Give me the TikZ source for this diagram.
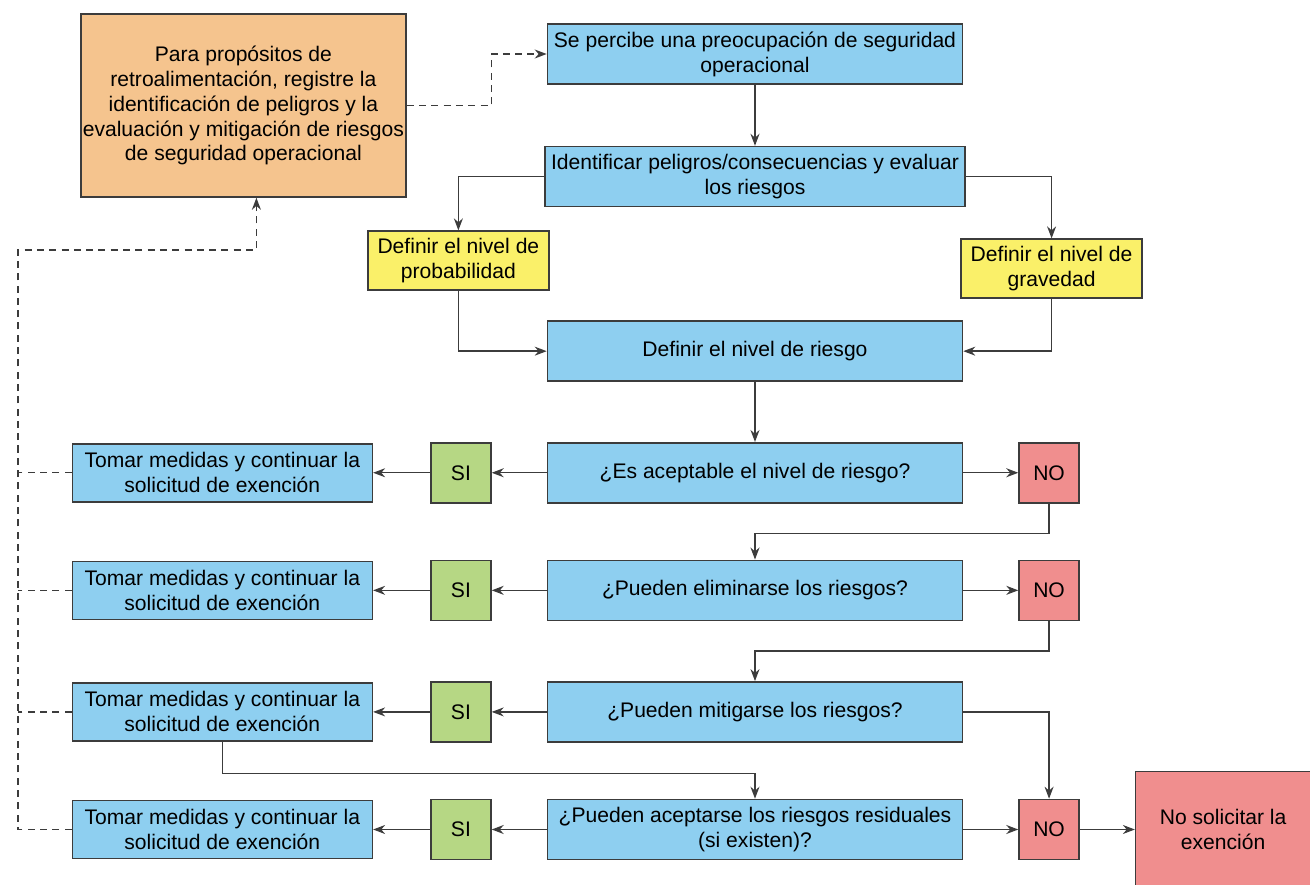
\documentclass[tikz,border=0pt]{standalone}
\usepackage{fontspec}
\setmainfont{Liberation Sans}
\usetikzlibrary{shapes.geometric, arrows.meta, positioning, chains}
\definecolor{boxblue}{RGB}{142,207,240}
\definecolor{boxorange}{RGB}{245,196,142}
\definecolor{boxyellow}{RGB}{250,240,105}
\definecolor{boxgreen}{RGB}{182,215,132}
\definecolor{boxred}{RGB}{240,142,142}
\definecolor{linegray}{RGB}{60,60,60}
\tikzstyle{block} = [rectangle, draw=linegray, line width=0.9pt, fill=boxblue, text centered, align=center, minimum height=1.2cm, minimum width=8.3cm, font=\fontsize{12}{14.2}\selectfont]
\tikzstyle{action} = [block, minimum width=6cm, minimum height=1.16cm]
\tikzstyle{levelbox} = [block, fill=boxyellow, minimum width=3.62cm, minimum height=1.18cm]
\tikzstyle{yesblock} = [block, fill=boxgreen, minimum width=1.2cm, minimum height=1.2cm]
\tikzstyle{noblock} = [block, fill=boxred, minimum width=1.2cm, minimum height=1.2cm]
\tikzstyle{recordbox} = [block, fill=boxorange, inner xsep=1pt, minimum width=6.5cm, minimum height=3.66cm]
\tikzstyle{arrow} = [line width=0.8pt, draw=linegray, ->, >={Stealth[length=2.4mm,width=1.8mm]}]
\tikzstyle{feedback} = [arrow, dashed, dash pattern=on 4pt off 3pt]

\begin{document}
\begin{tikzpicture}[node distance=1.2cm and 1.1cm, start chain=going below]
        \useasboundingbox (-15.1,1.08) rectangle (11.1,-16.6);

        % Main column (chain), distance set before 'on chain'
        \node (concern) [block, on chain] {Se percibe una preocupación de seguridad\\operacional};
        \node (hazards) [block, node distance=1.22cm, on chain] {Identificar peligros/consecuencias y evaluar\\los riesgos};
        \node (risk) [block, node distance=2.26cm, on chain] {Definir el nivel de riesgo};
        \node (accept) [block, node distance=1.2cm, on chain] {¿Es aceptable el nivel de riesgo?};
        \node (remove) [block, node distance=1.12cm, on chain] {¿Pueden eliminarse los riesgos?};
        \node (mitigate) [block, node distance=1.2cm, on chain] {¿Pueden mitigarse los riesgos?};
        \node (residual) [block, node distance=1.12cm, on chain] {¿Pueden aceptarse los riesgos residuales\\(si existen)?};

        % Probability and severity
        \node (prob) [levelbox, below=0.46cm of hazards.south west, xshift=-1.72cm] {Definir el nivel de\\probabilidad};
        \node (sev) [levelbox, below=0.62cm of hazards.south east, xshift=1.72cm] {Definir el nivel de\\gravedad};

        % Record box
        \node (record) [recordbox, left=2.8cm of concern.north west, anchor=north east, yshift=0.2cm] {Para propósitos de\\retroalimentación, registre la\\identificación de peligros y la\\evaluación y mitigación de riesgos\\de seguridad operacional};

        % SI / NO branches
        \node (yes1) [yesblock, left=of accept] {SI};
        \node (yes2) [yesblock, left=of remove] {SI};
        \node (yes3) [yesblock, left=of mitigate] {SI};
        \node (yes4) [yesblock, left=of residual] {SI};
        \node (act1) [action, left=1.14cm of yes1] {Tomar medidas y continuar la\\solicitud de exención};
        \node (act2) [action, left=1.14cm of yes2] {Tomar medidas y continuar la\\solicitud de exención};
        \node (act3) [action, left=1.14cm of yes3] {Tomar medidas y continuar la\\solicitud de exención};
        \node (act4) [action, left=1.14cm of yes4] {Tomar medidas y continuar la\\solicitud de exención};
        \node (no1) [noblock, right=of accept] {NO};
        \node (no2) [noblock, right=of remove] {NO};
        \node (no4) [noblock, right=of residual] {NO};
        \node (stop) [noblock, minimum width=3.5cm, minimum height=2.32cm, right=of no4] {No solicitar la\\exención};

        \coordinate (railtop) at (-14.74,-3.92);

        % Main flow
        \draw [arrow] (concern) -- (hazards);
        \draw [arrow] (hazards.west) -| (prob.north);
        \draw [arrow] (hazards.east) -| (sev.north);
        \draw [arrow] (prob.south) |- (risk.west);
        \draw [arrow] (sev.south) |- (risk.east);
        \draw [arrow] (risk) -- (accept);

        % Yes branches
        \foreach \i/\q in {1/accept, 2/remove, 3/mitigate, 4/residual} {
            \draw [arrow] (\q) -- (yes\i);
            \draw [arrow] (yes\i) -- (act\i);
        }

        % No branches
        \draw [arrow] (accept) -- (no1);
        \draw [arrow] (remove) -- (no2);
        \draw [arrow] (residual) -- (no4);
        \draw [arrow] (no1.south) -- ++(0,-0.6) -| (remove.north);
        \draw [arrow] (no2.south) -- ++(0,-0.6) -| (mitigate.north);
        \draw [arrow] (mitigate.east) -| (no4.north);
        \draw [arrow] (act3.south) -- ++(0,-0.64) -| (residual.north);
        \draw [arrow] (no4) -- (stop);

        % Feedback (dashed)
        \draw [feedback] (record.east) -- ++(1.7,0) |- (concern.west);
        \draw [feedback] (act4.west) -| (railtop) -| ([xshift=0.26cm]record.south);
        \draw [feedback, -] (act1.west) -- (act1.west -| railtop);
        \draw [feedback, -] (act2.west) -- (act2.west -| railtop);
        \draw [feedback, -] (act3.west) -- (act3.west -| railtop);

    \end{tikzpicture}
\end{document}
